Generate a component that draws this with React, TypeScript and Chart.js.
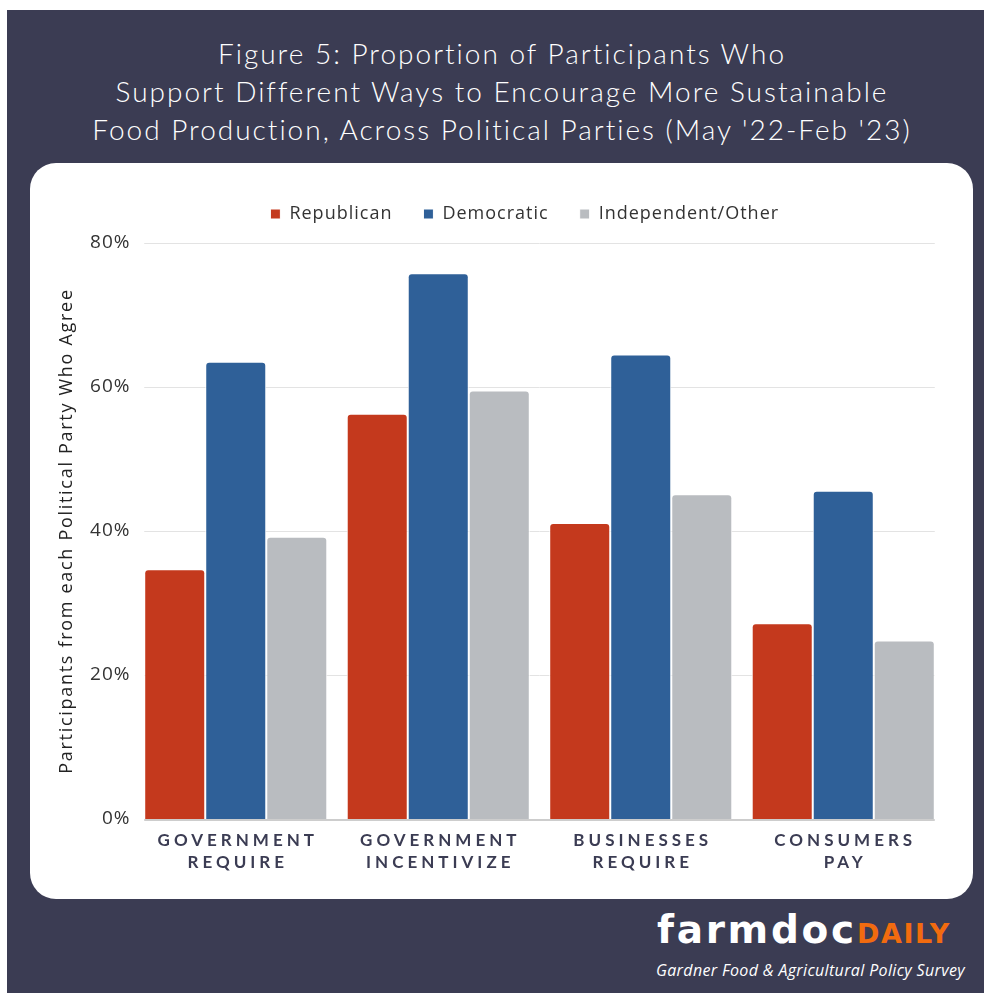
import React, { useEffect, useRef } from "react";
import { Chart, registerables } from "chart.js";

Chart.register(...registerables);

const categories: string[][] = [
  ["GOVERNMENT", "REQUIRE"],
  ["GOVERNMENT", "INCENTIVIZE"],
  ["BUSINESSES", "REQUIRE"],
  ["CONSUMERS", "PAY"],
];
const seriesNames = ["Republican", "Democratic", "Independent/Other"];
const republican = [34.7, 56.3, 41.1, 27.2];
const democratic = [63.5, 75.8, 64.5, 45.6];
const independent = [39.2, 59.5, 45.1, 24.8];
const yTickValues = [0, 20, 40, 60, 80];
const titleLines = [
  "Figure 5: Proportion of Participants Who",
  "Support Different Ways to Encourage More Sustainable",
  "Food Production, Across Political Parties (May '22-Feb '23)",
];
const yAxisTitle = "Participants from each Political Party Who Agree";

const RED = "#c4391d";
const BLUE = "#2f6098";
const GREY = "#b9bcc0";
const DARK = "#3b3c53";

function withSpacing(chart: any, obj: any, name: string, ls: string) {
  if (!obj || obj["__w_" + name]) return;
  const orig = obj[name].bind(obj);
  obj[name] = function (...args: any[]) {
    const ctx = chart.ctx;
    const prev = ctx.letterSpacing;
    ctx.letterSpacing = ls;
    const r = orig(...args);
    ctx.letterSpacing = prev;
    return r;
  };
  obj["__w_" + name] = true;
}

const customPlugin = {
  id: "custom",
  beforeInit(chart: any) {
    const legend = chart.legend;
    if (legend) {
      const orig = legend.fit.bind(legend);
      legend.fit = function () {
        const ctx = chart.ctx;
        const prev = ctx.letterSpacing;
        ctx.letterSpacing = "1px";
        orig();
        ctx.letterSpacing = prev;
        this.height = 69;
      };
      withSpacing(chart, legend, "draw", "1px");
    }
  },
  afterLayout(chart: any) {
    // legend centred slightly right, as in the source graphic
    if (chart.legend) chart.legend.left += 75;
  },
  beforeDraw(chart: any) {
    const y = chart.scales.y;
    withSpacing(chart, y, "drawLabels", "1px");
    withSpacing(chart, y, "drawTitle", "1.7px");
  },
  beforeDatasetsDraw(chart: any) {
    const ctx = chart.ctx;
    const y = chart.scales.y;
    const first = chart.getDatasetMeta(0).data[0];
    const lastMeta = chart.getDatasetMeta(chart.data.datasets.length - 1);
    const last = lastMeta.data[lastMeta.data.length - 1];
    const x0 = first.x - first.width / 2;
    const x1 = last.x + last.width / 2;
    ctx.save();
    ctx.strokeStyle = "#e3e3e3";
    ctx.lineWidth = 1;
    y.ticks.forEach((t: any) => {
      if (t.value <= 0) return;
      const py = Math.round(y.getPixelForValue(t.value)) + 0.5;
      ctx.beginPath();
      ctx.moveTo(x0, py);
      ctx.lineTo(x1, py);
      ctx.stroke();
    });
    ctx.restore();
  },
  afterDatasetsDraw(chart: any) {
    const ctx = chart.ctx;
    const y = chart.scales.y;
    const x = chart.scales.x;
    const first = chart.getDatasetMeta(0).data[0];
    const lastMeta = chart.getDatasetMeta(chart.data.datasets.length - 1);
    const last = lastMeta.data[lastMeta.data.length - 1];
    const x0 = first.x - first.width / 2;
    const x1 = last.x + last.width / 2;
    const y0 = y.getPixelForValue(0);
    ctx.save();
    ctx.strokeStyle = "#cdcdcd";
    ctx.lineWidth = 2;
    ctx.beginPath();
    ctx.moveTo(x0, y0 + 1);
    ctx.lineTo(x1, y0 + 1);
    ctx.stroke();

    // category labels with letter spacing
    const spacing = 4;
    ctx.font = "bold 17px Lato";
    ctx.fillStyle = DARK;
    ctx.textAlign = "center";
    ctx.textBaseline = "middle";
    (ctx as any).letterSpacing = spacing + "px";
    (chart.data.labels as string[][]).forEach((lab, i) => {
      const cx = x.getPixelForValue(i) + spacing / 2;
      lab.forEach((line, j) => {
        ctx.fillText(line, cx, chart.chartArea.bottom + 21.5 + j * 22);
      });
    });
    ctx.restore();
  },
};

export default function App() {
  const ref = useRef<HTMLCanvasElement | null>(null);

  useEffect(() => {
    if (!ref.current) return;
    const mk = (label: string, data: number[], color: string) => ({
      label,
      data,
      backgroundColor: color,
      borderColor: "#ffffff",
      borderWidth: 1,
      borderSkipped: "start" as const,
      borderRadius: { topLeft: 4, topRight: 4, bottomLeft: 0, bottomRight: 0 },
      barPercentage: 1,
      categoryPercentage: 0.904,
    });
    const chart = new Chart(ref.current, {
      type: "bar",
      data: {
        labels: categories,
        datasets: [
          mk(seriesNames[0], republican, RED),
          mk(seriesNames[1], democratic, BLUE),
          mk(seriesNames[2], independent, GREY),
        ],
      },
      options: {
        responsive: false,
        animation: false,
        devicePixelRatio: 1,
        layout: { padding: { top: 11, left: 0, right: 28.5, bottom: 0 } },
        plugins: {
          legend: {
            display: true,
            position: "top",
            align: "center",
            labels: {
              boxWidth: 10,
              boxHeight: 10,
              padding: 31,
              color: "#333333",
              font: { family: "'Open Sans'", size: 18 },
            },
          },
          tooltip: { enabled: false },
          title: { display: false },
        },
        scales: {
          x: {
            grid: { display: false, drawTicks: false },
            border: { display: false },
            ticks: { display: false },
            afterFit: (s: any) => {
              s.height = 80;
            },
          },
          y: {
            min: 0,
            max: 80,
            afterBuildTicks: (s: any) => {
              s.ticks = yTickValues.map((v) => ({ value: v }));
            },
            grid: { display: false, drawTicks: false },
            border: { display: false },
            ticks: {
              padding: 4,
              color: "#333333",
              font: { family: "'Open Sans'", size: 19 },
              callback: (v: any) => v + "%",
            },
            title: {
              display: true,
              text: yAxisTitle,
              color: "#222222",
              font: { family: "'Open Sans'", size: 18 },
              padding: { top: 26.2, bottom: 0 },
            },
            afterFit: (s: any) => {
              s.width = 104.5;
            },
          },
        },
      },
      plugins: [customPlugin],
    });
    return () => chart.destroy();
  }, []);

  return (
    <div style={{ position: "absolute", left: 0, top: 0, width: 984, height: 993, background: "#ffffff", overflow: "hidden" }}>
      <div style={{ position: "absolute", left: 7, top: 10, width: 977, height: 983, background: DARK }} />
      <div
        style={{
          position: "absolute",
          left: 17,
          width: 970,
          top: 33.5,
          textAlign: "center",
          color: "#ffffff",
          fontFamily: "Lato, sans-serif",
          fontWeight: 300,
          fontSize: 28,
          lineHeight: "38px",
          letterSpacing: "2px",
        }}
      >
        {titleLines.map((l, i) => (
          <div key={i} style={{ whiteSpace: "nowrap" }}>{l}</div>
        ))}
      </div>
      <div style={{ position: "absolute", left: 30, top: 163, width: 943, height: 736, background: "#ffffff", borderRadius: 26 }} />
      <canvas ref={ref} width={943} height={736} style={{ position: "absolute", left: 30, top: 163, width: 943, height: 736 }} />
      <div
        style={{
          position: "absolute",
          left: 657,
          top: 910,
          whiteSpace: "nowrap",
          lineHeight: 1,
          fontFamily: "'DejaVu Sans', sans-serif",
          fontWeight: 700,
        }}
      >
        <span style={{ color: "#ffffff", fontSize: 39, letterSpacing: "2.7px" }}>farmdoc</span>
        <span style={{ color: "#f26b0f", fontSize: 27, letterSpacing: "1.6px" }}>DAILY</span>
      </div>
      <div
        style={{
          position: "absolute",
          left: 656,
          top: 961.8,
          whiteSpace: "nowrap",
          color: "#ffffff",
          fontFamily: "'Open Sans', sans-serif",
          fontStyle: "italic",
          fontSize: 16,
          lineHeight: 1,
          letterSpacing: "0.35px",
        }}
      >
        Gardner Food &amp; Agricultural Policy Survey
      </div>
    </div>
  );
}
